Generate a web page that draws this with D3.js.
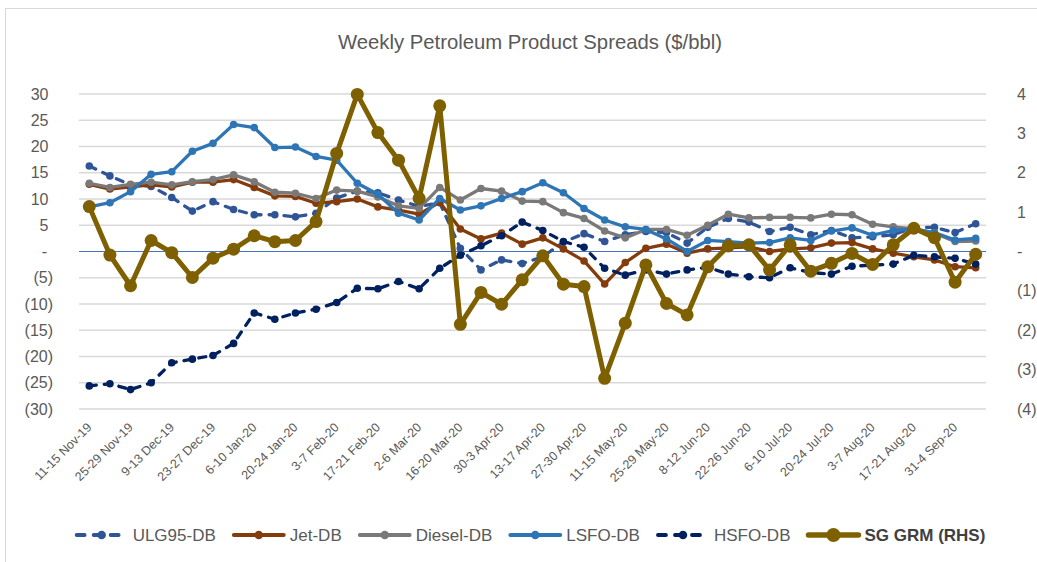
<!DOCTYPE html>
<html><head><meta charset="utf-8">
<script src="https://cdn.jsdelivr.net/npm/d3@7"></script>
<style>body{margin:0;background:#fff;} svg{display:block;font-family:"Liberation Sans",Arial,sans-serif;}</style>
</head><body><svg id="c" width="1037" height="562"></svg>
<script>
const categories = ["11-15 Nov-19","18-22 Nov-19","25-29 Nov-19","2-6 Dec-19","9-13 Dec-19","16-20 Dec-19","23-27 Dec-19","30-3 Jan-20","6-10 Jan-20","13-17 Jan-20","20-24 Jan-20","27-31 Jan-20","3-7 Feb-20","10-14 Feb-20","17-21 Feb-20","24-28 Feb-20","2-6 Mar-20","9-13 Mar-20","16-20 Mar-20","23-27 Mar-20","30-3 Apr-20","6-9 Apr-20","13-17 Apr-20","20-24 Apr-20","27-30 Apr-20","4-8 May-20","11-15 May-20","18-22 May-20","25-29 May-20","1-5 Jun-20","8-12 Jun-20","15-19 Jun-20","22-26 Jun-20","29-3 Jul-20","6-10 Jul-20","13-17 Jul-20","20-24 Jul-20","27-31 Jul-20","3-7 Aug-20","10-14 Aug-20","17-21 Aug-20","24-28 Aug-20","31-4 Sep-20","7-11 Sep-20"];
const ulg95 = [16.3,14.4,12.7,12.4,10.3,7.7,9.5,8.0,7.0,7.0,6.6,7.3,10.2,11.5,11.2,9.8,8.6,9.3,0.6,-3.5,-1.6,-2.3,-1.0,1.8,3.4,1.9,3.2,3.8,3.6,1.6,4.6,6.3,5.6,3.8,4.6,3.2,4.0,2.6,2.8,3.2,4.6,4.6,3.6,5.3];
const jet = [12.8,11.9,12.3,12.7,12.3,13.2,13.2,13.7,12.2,10.6,10.5,9.2,9.5,10.0,8.5,7.9,7.1,9.4,4.3,2.4,3.5,1.4,2.6,0.5,-1.8,-6.2,-2.1,0.6,1.4,-0.3,0.5,0.7,0.9,0.0,0.5,0.7,1.6,1.7,0.5,-0.3,-1.0,-1.6,-2.9,-3.1];
const diesel = [13.0,12.2,12.8,13.2,12.7,13.3,13.7,14.6,13.3,11.3,11.1,10.1,11.7,11.5,10.4,8.7,8.2,12.2,9.8,12.0,11.5,9.6,9.5,7.4,6.3,3.9,2.6,4.2,4.2,3.1,5.0,7.1,6.4,6.5,6.5,6.4,7.1,7.0,5.2,4.7,4.3,3.5,1.9,2.0];
const lsfo = [8.5,9.3,11.4,14.7,15.2,19.1,20.6,24.2,23.6,19.8,19.9,18.1,17.4,13.0,10.9,7.3,6.0,10.1,7.9,8.7,10.1,11.4,13.1,11.2,8.2,6.0,4.7,4.2,2.4,0.0,2.1,1.9,1.6,1.7,2.6,2.1,3.9,4.5,3.1,4.0,4.3,3.6,2.2,2.5];
const hsfo = [-25.6,-25.2,-26.3,-25.0,-21.2,-20.5,-19.8,-17.5,-11.7,-12.9,-11.7,-11.0,-9.7,-7.0,-7.1,-5.7,-7.1,-3.2,-0.7,1.1,3.0,5.6,4.0,1.9,0.8,-3.2,-4.5,-3.5,-4.3,-3.5,-3.0,-4.3,-4.8,-5.0,-3.1,-4.0,-4.3,-2.8,-2.6,-2.4,-0.7,-1.0,-1.3,-2.4];
const sgGrm = [1.14,-0.09,-0.87,0.28,-0.03,-0.66,-0.17,0.06,0.40,0.25,0.28,0.76,2.49,3.99,3.02,2.32,1.35,3.70,-1.85,-1.04,-1.34,-0.72,-0.11,-0.83,-0.89,-3.22,-1.82,-0.34,-1.32,-1.61,-0.39,0.14,0.17,-0.47,0.17,-0.50,-0.30,-0.05,-0.33,0.17,0.59,0.35,-0.78,-0.07];
const leftTicks = [30,25,20,15,10,5,0,-5,-10,-15,-20,-25,-30];
const rightTicks = [4,3,2,1,0,-1,-2,-3,-4];
const seriesNames = ["ULG95-DB","Jet-DB","Diesel-DB","LSFO-DB","HSFO-DB","SG GRM (RHS)"];

const svg = d3.select("#c");
const M = {l:79, r:986, t:94, b:409};
const x = d3.scaleBand().domain(categories).range([M.l, M.r]);
const yL = d3.scaleLinear().domain([-30,30]).range([M.b, M.t]);
const yR = d3.scaleLinear().domain([-4,4]).range([M.b, M.t]);
const cx = d => x(d) + x.bandwidth()/2;
const fmt = v => v === 0 ? "-" : v < 0 ? "(" + (-v) + ")" : String(v);

svg.append("rect").attr("x",5.5).attr("y",8.5).attr("width",1100).attr("height",600)
  .attr("fill","#fff").attr("stroke","#d9d9d9");

svg.append("text").attr("x",530).attr("y",49).attr("text-anchor","middle")
  .attr("font-size",20.3).attr("fill","#595959").text("Weekly Petroleum Product Spreads ($/bbl)");

// gridlines
svg.append("g").selectAll("line").data(leftTicks.filter(t=>t!==0)).join("line")
  .attr("x1",M.l).attr("x2",M.r).attr("y1",d=>yL(d)).attr("y2",d=>yL(d))
  .attr("stroke","#d9d9d9").attr("stroke-width",1.3);
svg.append("line").attr("x1",M.l).attr("x2",M.r).attr("y1",yL(0)).attr("y2",yL(0))
  .attr("stroke","#4472c4").attr("stroke-width",1.2);

// left axis labels
const gl = svg.append("g").attr("font-size",16).attr("fill","#595959");
gl.selectAll("text").data(leftTicks).join("text")
  .attr("x",d=> d<0 ? 53 : (d===0 ? 47 : 48.5)).attr("y",d=>yL(d)).attr("dy","0.35em")
  .attr("text-anchor","end").text(fmt);
const gr = svg.append("g").attr("font-size",16).attr("fill","#595959");
gr.selectAll("text").data(rightTicks).join("text")
  .attr("x",1017).attr("y",d=>yR(d)).attr("dy","0.35em")
  .attr("text-anchor","start").text(fmt);

// x labels
svg.append("g").attr("font-size",12.5).attr("fill","#595959")
  .selectAll("text").data(categories.filter((d,i)=>i%2===0)).join("text")
  .attr("transform",d=>`translate(${cx(d)},425) rotate(-45)`)
  .attr("text-anchor","end").attr("dy","0.35em").text(d=>d);

const defs = [
  {name:seriesNames[0], data:ulg95, color:"#2f5597", w:3.3, dash:"7,8", r:3.8, axis:yL},
  {name:seriesNames[1], data:jet, color:"#843c0c", w:3.3, dash:null, r:3.8, axis:yL},
  {name:seriesNames[2], data:diesel, color:"#7b7878", w:3.3, dash:null, r:3.8, axis:yL},
  {name:seriesNames[3], data:lsfo, color:"#2e75b6", w:3.3, dash:null, r:3.8, axis:yL},
  {name:seriesNames[4], data:hsfo, color:"#002060", w:3.3, dash:"7,8", r:3.8, axis:yL},
  {name:seriesNames[5], data:sgGrm, color:"#7f6000", w:5, dash:null, r:6.5, axis:yR}
];

defs.forEach(s => {
  const pts = s.data.map((v,i)=>[cx(categories[i]), s.axis(v)]);
  svg.append("path").attr("d", d3.line()(pts)).attr("fill","none")
    .attr("stroke",s.color).attr("stroke-width",s.w).attr("stroke-linejoin","round")
    .attr("stroke-linecap","round").attr("stroke-dasharray",s.dash);
  svg.append("g").selectAll("circle").data(pts).join("circle")
    .attr("cx",d=>d[0]).attr("cy",d=>d[1]).attr("r",s.r).attr("fill",s.color);
});

// legend
const lg = svg.append("g").attr("font-size",17);
const items = defs.map(s=>{
  const g = lg.append("g");
  g.append("line").attr("x1",0).attr("x2",50).attr("y1",0).attr("y2",0)
    .attr("stroke",s.color).attr("stroke-width",s.w+0.5).attr("stroke-linecap","round")
    .attr("stroke-dasharray", s.dash ? "8,9" : null);
  g.append("circle").attr("cx",25).attr("cy",0).attr("r",s.r+0.5).attr("fill",s.color);
  const t = g.append("text").attr("x",56).attr("dy","0.35em").text(s.name)
    .attr("fill", s.name.startsWith("SG") ? "#404040" : "#595959")
    .attr("font-weight", s.name.startsWith("SG") ? "bold" : null);
  return {g, w: 56 + t.node().getComputedTextLength()};
});
const gap = 18;
const total = d3.sum(items, d=>d.w) + gap*(items.length-1);
let pos = 531 - total/2;
items.forEach(it=>{ it.g.attr("transform",`translate(${pos},535)`); pos += it.w + gap; });
</script></body></html>
